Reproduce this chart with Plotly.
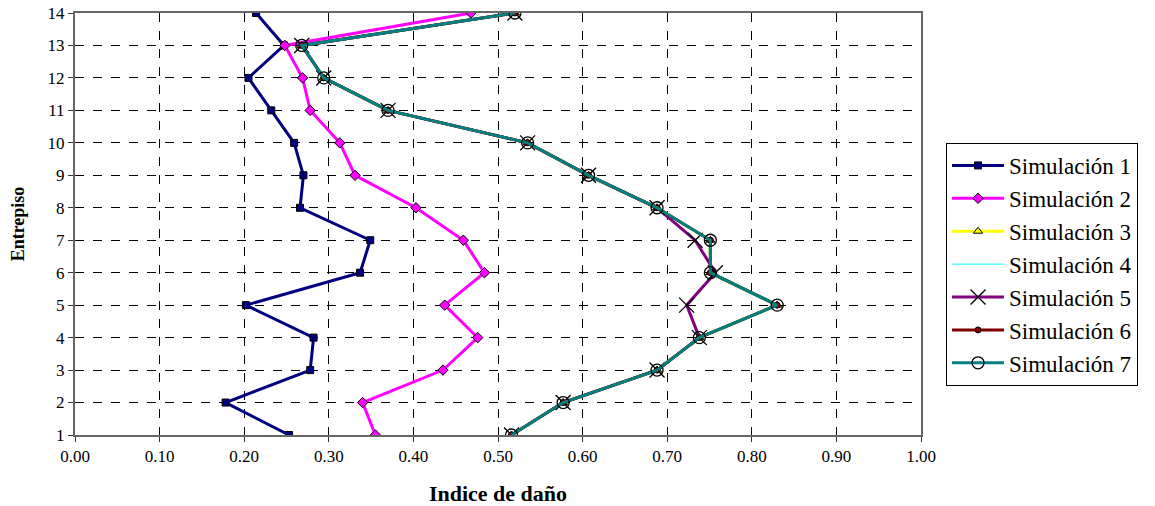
import plotly.graph_objects as go

floors = list(range(1, 15))
x_ticks = [0.0, 0.1, 0.2, 0.3, 0.4, 0.5, 0.6, 0.7, 0.8, 0.9, 1.0]

sim1 = [0.253, 0.178, 0.278, 0.282, 0.202, 0.337, 0.349, 0.266, 0.270, 0.259, 0.232, 0.205, 0.247, 0.214]
sim2 = [0.355, 0.340, 0.435, 0.476, 0.437, 0.484, 0.459, 0.403, 0.331, 0.313, 0.278, 0.269, 0.248, 0.468]
sim3 = [0.516, 0.577, 0.688, 0.738, 0.830, 0.751, 0.751, 0.688, 0.607, 0.535, 0.370, 0.294, 0.268, 0.520]
sim4 = [0.516, 0.577, 0.688, 0.738, 0.830, 0.751, 0.751, 0.688, 0.607, 0.535, 0.370, 0.294, 0.268, 0.520]
sim5 = [0.516, 0.577, 0.688, 0.738, 0.723, 0.757, 0.733, 0.688, 0.607, 0.535, 0.370, 0.294, 0.268, 0.520]
sim6 = [0.516, 0.577, 0.688, 0.738, 0.830, 0.751, 0.751, 0.688, 0.607, 0.535, 0.370, 0.294, 0.268, 0.520]
sim7 = [0.516, 0.577, 0.688, 0.738, 0.830, 0.751, 0.751, 0.688, 0.607, 0.535, 0.370, 0.294, 0.268, 0.520]

names = ["Simulación 1", "Simulación 2", "Simulación 3", "Simulación 4",
         "Simulación 5", "Simulación 6", "Simulación 7"]
series = [sim1, sim2, sim3, sim4, sim5, sim6, sim7]

styles = [
    dict(color="#000080", width=3, symbol="square", msize=7, mcolor="#000080", mline="black", mlw=1),
    dict(color="#FF00FF", width=3, symbol="diamond", msize=8, mcolor="#FF00FF", mline="black", mlw=1),
    dict(color="#FFFF00", width=3, symbol="triangle-up", msize=8, mcolor="#FFFF00", mline="black", mlw=1),
    dict(color="#00FFFF", width=1, symbol=None),
    dict(color="#800080", width=3, symbol="x-thin-open", msize=15, mcolor="black", mline="black", mlw=1.3),
    dict(color="#800000", width=3, symbol="circle", msize=6, mcolor="#800000", mline="black", mlw=1),
    dict(color="#008080", width=3, symbol="circle-open", msize=12, mcolor="black", mline="black", mlw=1.3),
]

fig = go.Figure()
for nm, vals, st in zip(names, series, styles):
    if st["symbol"] is None:
        fig.add_trace(go.Scatter(
            x=vals, y=floors, name=nm, mode="lines",
            line=dict(color=st["color"], width=st["width"]),
        ))
    else:
        fig.add_trace(go.Scatter(
            x=vals, y=floors, name=nm, mode="lines+markers",
            line=dict(color=st["color"], width=st["width"]),
            marker=dict(symbol=st["symbol"], size=st["msize"], color=st["mcolor"],
                        line=dict(color=st["mline"], width=st["mlw"])),
        ))

font_family = "Times New Roman, Liberation Serif, serif"

fig.update_layout(
    width=1155, height=506,
    margin=dict(l=75, r=234, t=13, b=71),
    paper_bgcolor="white", plot_bgcolor="white",
    font=dict(family=font_family, color="black", size=16),
    showlegend=True,
    legend=dict(
        x=1.0296, y=0.692, xanchor="left", yanchor="top",
        bordercolor="black", borderwidth=1, bgcolor="white",
        font=dict(family=font_family, size=23, color="black"),
        itemwidth=52,
    ),
    xaxis=dict(
        range=[0, 1], tickvals=x_ticks, tickformat=".2f", automargin=False,
        showgrid=True, gridcolor="black", griddash="dash", gridwidth=1,
        showline=True, linecolor="#666666", linewidth=2, mirror=True,
        ticks="outside", ticklen=5, tickcolor="#333333",
        tickfont=dict(family=font_family, size=17), zeroline=False,
        title=dict(text="<b>Indice de daño</b>", font=dict(family=font_family, size=22), standoff=22),
    ),
    yaxis=dict(
        range=[1, 14], tickvals=floors, automargin=False,
        showgrid=True, gridcolor="black", griddash="dash", gridwidth=1,
        showline=True, linecolor="#666666", linewidth=2, mirror=True,
        ticks="outside", ticklen=5, tickcolor="#333333",
        tickfont=dict(family=font_family, size=17), zeroline=False,
        title=dict(text="<b>Entrepiso</b>", font=dict(family=font_family, size=18), standoff=18),
    ),
)

fig.write_html("out.html", config={"displayModeBar": False},
               post_script="document.body.style.margin='0';")
